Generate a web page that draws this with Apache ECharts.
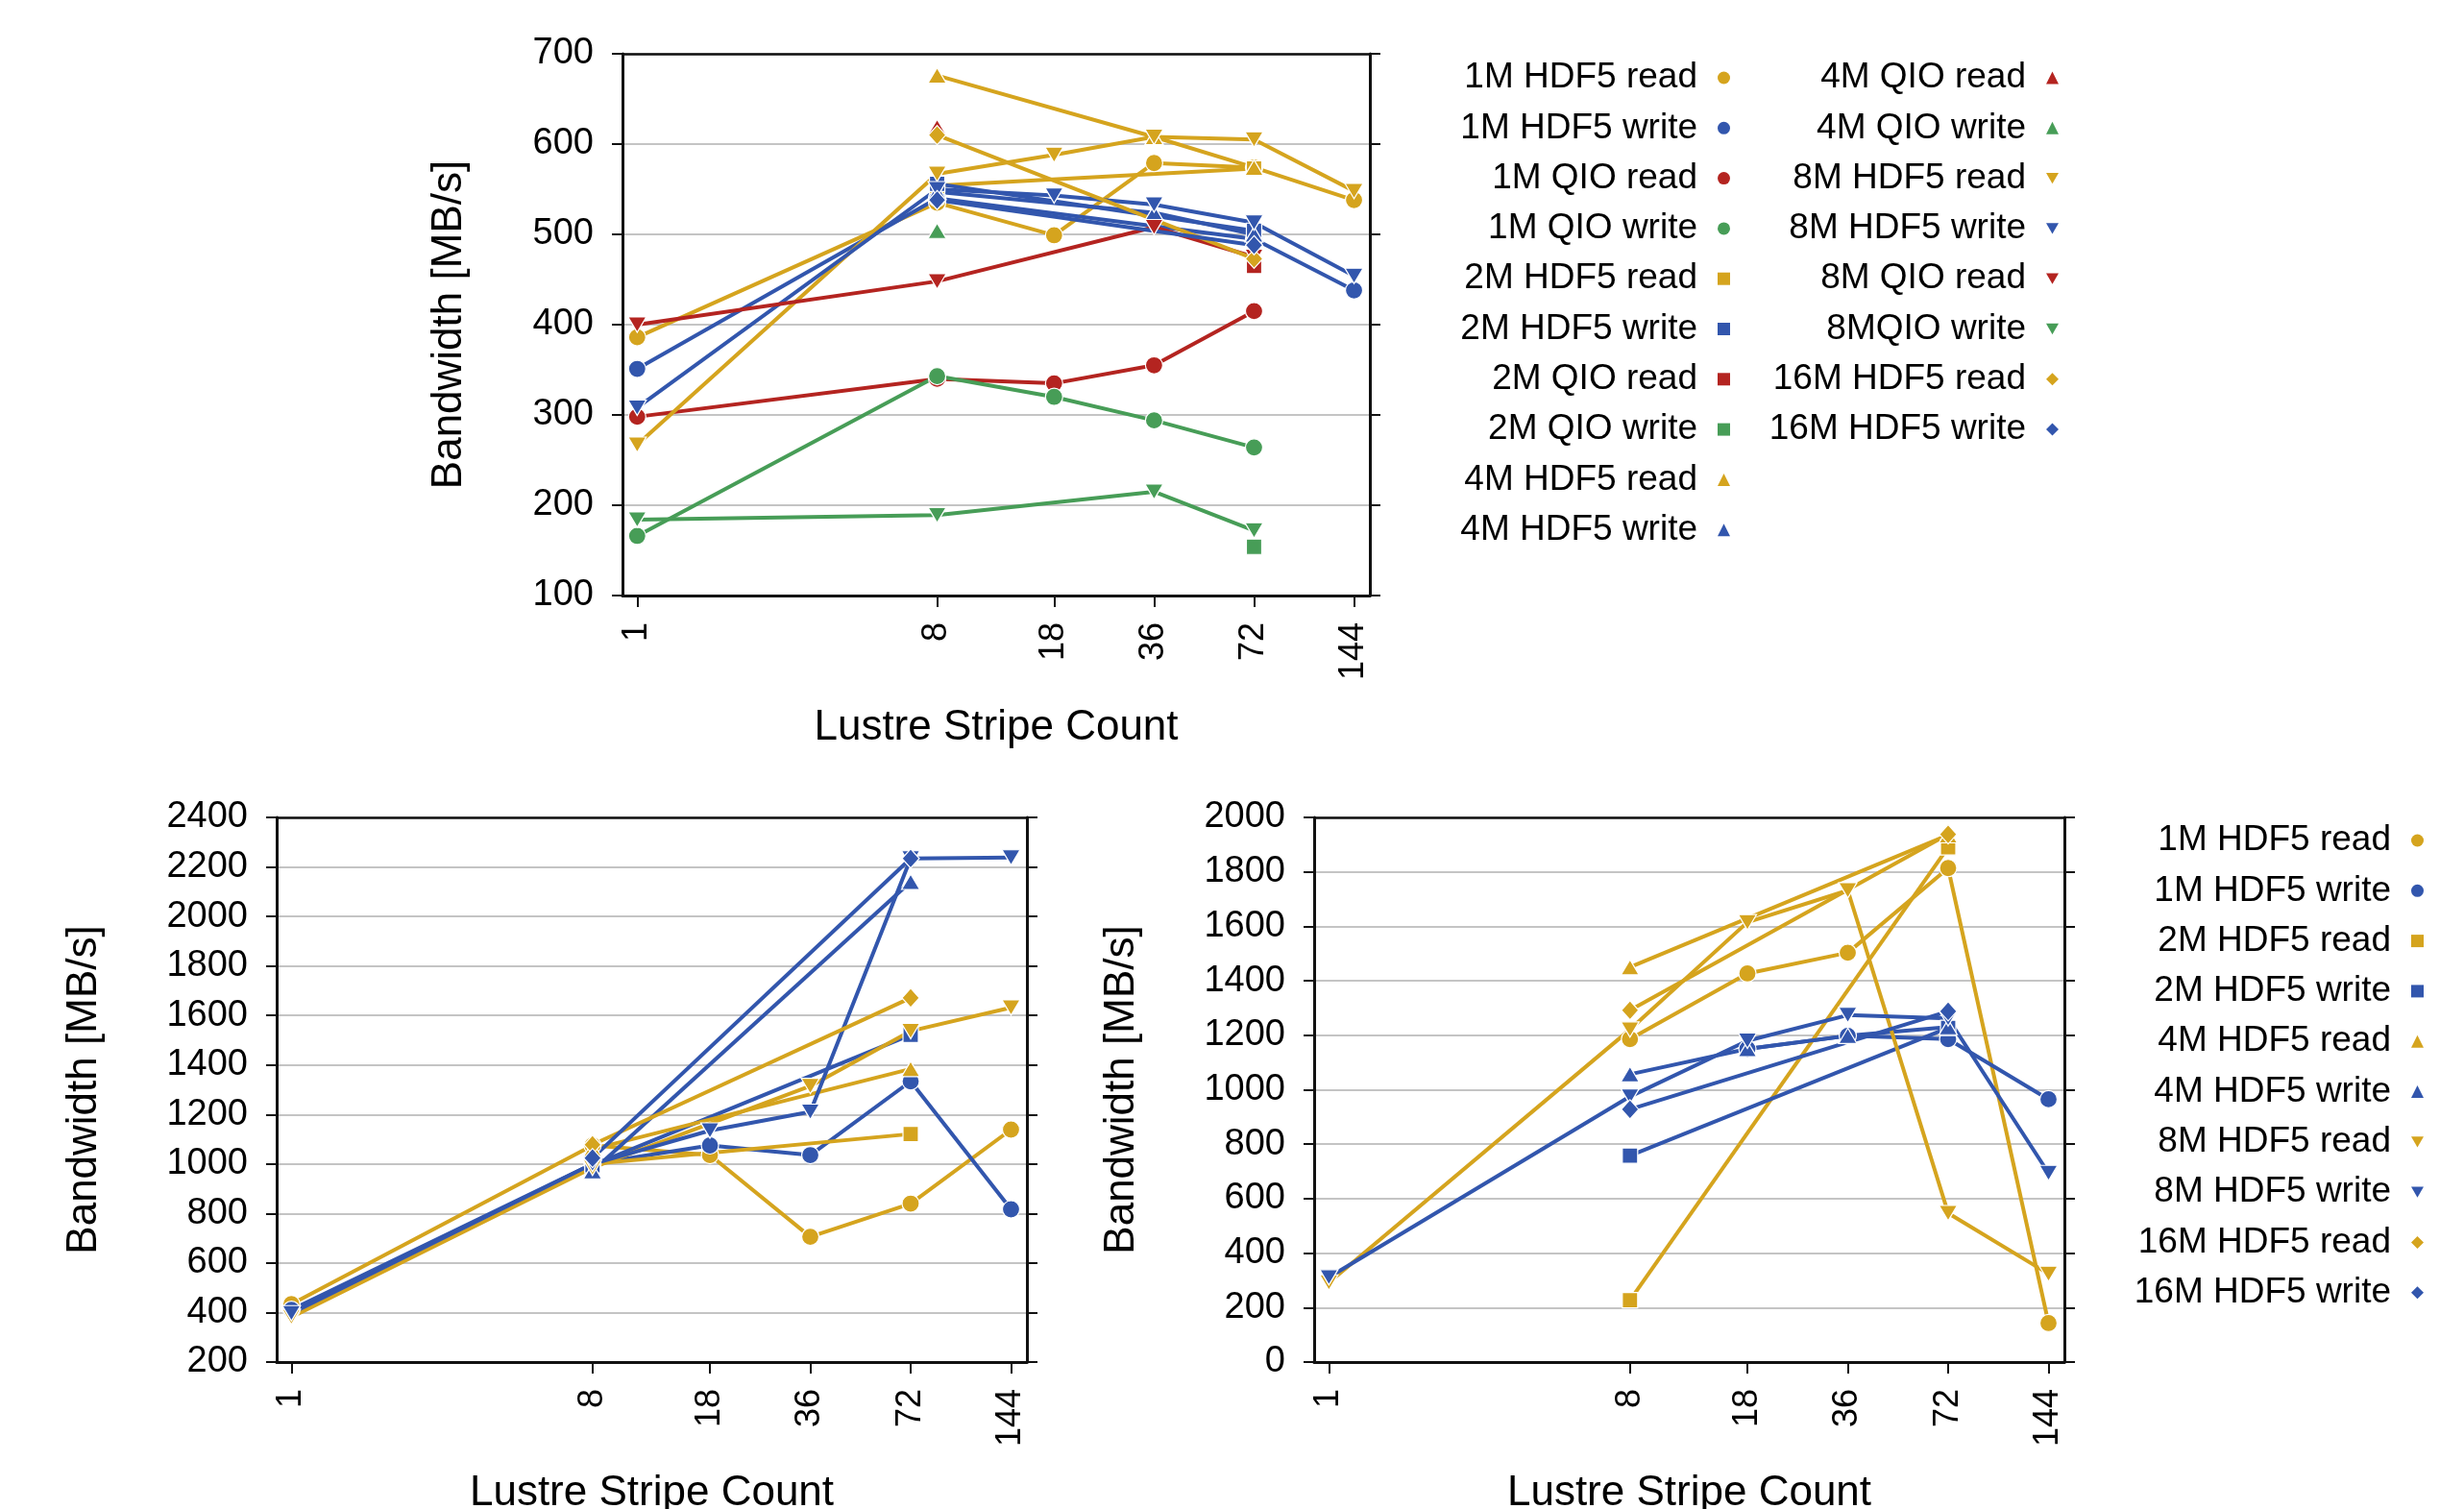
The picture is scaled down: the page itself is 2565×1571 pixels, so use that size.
<!DOCTYPE html>
<html><head><meta charset="utf-8">
<script src="https://cdn.jsdelivr.net/npm/echarts@6/dist/echarts.min.js"></script>
<style>html,body{margin:0;padding:0;background:#fff}#c{width:2565px;height:1571px}</style>
</head><body><div id="c"></div>
<script>
// ---------- DATA ----------
const stripeCounts = [1, 8, 18, 36, 72, 144];
const xAxisTitle = 'Lustre Stripe Count';
const yAxisTitle = 'Bandwidth [MB/s]';

// Top chart (HDF5 vs QIO), values per stripe count (null = not measured)
const top_1M_HDF5_read   = [386, 535, 499, 579, 574, 538];
const top_1M_HDF5_write  = [351, 540, null, null, 495, 438];
const top_1M_QIO_read    = [298, 340, 335, 355, 415, null];
const top_1M_QIO_write   = [166, 343, 320, 294, 264, null];
const top_2M_HDF5_read   = [null, 554, null, null, 573, null];
const top_2M_HDF5_write  = [null, 556, null, null, 504, null];
const top_2M_QIO_read    = [null, null, null, null, 465, null];
const top_2M_QIO_write   = [null, null, null, null, 154, null];
const top_4M_HDF5_read   = [null, 676, null, 608, 574, null];
const top_4M_HDF5_write  = [null, 547, null, 524, 500, null];
const top_4M_QIO_read    = [null, 619, null, null, null, null];
const top_4M_QIO_write   = [null, 504, null, null, null, null];
const top_8M_HDF5_read   = [267, 567, 588, 608, 605, 548];
const top_8M_HDF5_write  = [308, 550, 543, 533, 513, 454];
const top_8M_QIO_read    = [400, 448, null, 508, 475, null];
const top_8M_QIO_write   = [184, 189, null, 215, 172, null];
const top_16M_HDF5_read  = [null, 610, null, null, 473, null];
const top_16M_HDF5_write = [null, 538, null, null, 488, null];

// Bottom-left chart
const bl_1M_HDF5_read   = [434, 1075, 1036, 706, 840, 1139];
const bl_1M_HDF5_write  = [411, 1000, 1075, 1036, 1334, 817];
const bl_2M_HDF5_read   = [null, 1000, null, null, 1121, null];
const bl_2M_HDF5_write  = [null, 995, null, null, 1522, null];
const bl_4M_HDF5_read   = [null, 1060, null, null, 1384, null];
const bl_4M_HDF5_write  = [null, 971, null, null, 2140, null];
const bl_8M_HDF5_read   = [382, 985, null, 1315, 1537, 1632];
const bl_8M_HDF5_write  = [397, 1000, 1135, 1211, 2234, 2238];
const bl_16M_HDF5_read  = [null, 1078, null, null, 1671, null];
const bl_16M_HDF5_write = [null, 1024, null, null, 2234, null];

// Bottom-right chart
const br_1M_HDF5_read   = [null, 1186, 1427, 1503, 1814, 143];
const br_1M_HDF5_write  = [null, null, 1150, 1198, 1186, 965];
const br_2M_HDF5_read   = [null, 227, null, null, 1890, null];
const br_2M_HDF5_write  = [null, 758, null, null, 1227, null];
const br_4M_HDF5_read   = [null, 1450, null, null, 1935, null];
const br_4M_HDF5_write  = [null, 1057, 1150, 1198, 1230, null];
const br_8M_HDF5_read   = [292, 1221, 1615, 1732, 547, 324];
const br_8M_HDF5_write  = [311, 975, 1180, 1274, 1262, 694];
const br_16M_HDF5_read  = [null, 1292, null, null, 1938, null];
const br_16M_HDF5_write = [null, 928, null, null, 1288, null];

const topNames = ['1M HDF5 read','1M HDF5 write','1M QIO read','1M QIO write','2M HDF5 read','2M HDF5 write','2M QIO read','2M QIO write','4M HDF5 read','4M HDF5 write','4M QIO read','4M QIO write','8M HDF5 read','8M HDF5 write','8M QIO read','8MQIO write','16M HDF5 read','16M HDF5 write'];
const topValues = [top_1M_HDF5_read, top_1M_HDF5_write, top_1M_QIO_read, top_1M_QIO_write, top_2M_HDF5_read, top_2M_HDF5_write, top_2M_QIO_read, top_2M_QIO_write, top_4M_HDF5_read, top_4M_HDF5_write, top_4M_QIO_read, top_4M_QIO_write, top_8M_HDF5_read, top_8M_HDF5_write, top_8M_QIO_read, top_8M_QIO_write, top_16M_HDF5_read, top_16M_HDF5_write];
const hdfNames = ['1M HDF5 read','1M HDF5 write','2M HDF5 read','2M HDF5 write','4M HDF5 read','4M HDF5 write','8M HDF5 read','8M HDF5 write','16M HDF5 read','16M HDF5 write'];
const blValues = [bl_1M_HDF5_read, bl_1M_HDF5_write, bl_2M_HDF5_read, bl_2M_HDF5_write, bl_4M_HDF5_read, bl_4M_HDF5_write, bl_8M_HDF5_read, bl_8M_HDF5_write, bl_16M_HDF5_read, bl_16M_HDF5_write];
const brValues = [br_1M_HDF5_read, br_1M_HDF5_write, br_2M_HDF5_read, br_2M_HDF5_write, br_4M_HDF5_read, br_4M_HDF5_write, br_8M_HDF5_read, br_8M_HDF5_write, br_16M_HDF5_read, br_16M_HDF5_write];

// ---------- STYLE ----------
const FONT = 'Liberation Sans, Arial, sans-serif';
const C = { hdfRead: '#D5A41E', hdfWrite: '#3256AD', qioRead: '#B42420', qioWrite: '#479D57' };
const TRI_DOWN = 'path://M0,0L100,0L50,87Z';
function colorOf(n) {
  const q = n.indexOf('QIO') >= 0, r = n.indexOf('read') >= 0;
  return q ? (r ? C.qioRead : C.qioWrite) : (r ? C.hdfRead : C.hdfWrite);
}
function symbolOf(n) {
  if (n.startsWith('16M')) return 'diamond';
  if (n.startsWith('1M')) return 'circle';
  if (n.startsWith('2M')) return 'rect';
  if (n.startsWith('4M')) return 'triangle';
  return TRI_DOWN;
}
function symSize(n) {
  const s = symbolOf(n);
  if (s === 'circle') return 18;
  if (s === 'rect') return 16;
  if (s === 'diamond') return [18, 20];
  return [19, 16];
}
const toLog = v => Math.log2(v);
const X_MIN = -0.147, X_MAX = 7.328;

function makeSeries(names, values, axisIdx) {
  return names.map((n, i) => ({
    type: 'line', name: n, xAxisIndex: axisIdx, yAxisIndex: axisIdx,
    data: stripeCounts.map((s, k) => values[i][k] == null ? null : [toLog(s), values[i][k]]).filter(d => d),
    symbol: symbolOf(n), symbolSize: symSize(n), showSymbol: true, showAllSymbol: true,
    lineStyle: { width: 4, color: colorOf(n) },
    itemStyle: { color: colorOf(n), borderColor: '#fff', borderWidth: 1.2 },
    emphasis: { disabled: true }, animation: false, clip: false
  }));
}

const axisLineStyle = { color: '#111', width: 3 };
function xAxesFor(gi, gap) {
  return [{
    type: 'value', gridIndex: gi, position: 'bottom', min: X_MIN, max: X_MAX,
    axisLine: { show: true, onZero: false, lineStyle: axisLineStyle },
    axisTick: { show: true, inside: false, length: 12, lineStyle: { color: '#111', width: 2 }, customValues: stripeCounts.map(toLog) },
    axisLabel: { show: true, rotate: 90, margin: 28, fontSize: 36, color: '#000', fontFamily: FONT,
      customValues: stripeCounts.map(toLog), formatter: v => String(Math.round(Math.pow(2, v))) },
    splitLine: { show: false },
    name: xAxisTitle, nameLocation: 'middle', nameGap: gap,
    nameTextStyle: { fontSize: 44, color: '#000', fontFamily: FONT }
  }, {
    type: 'value', gridIndex: gi, position: 'top', min: X_MIN, max: X_MAX,
    axisLine: { show: true, onZero: false, lineStyle: { color: '#111', width: 2.5 } },
    axisTick: { show: false }, axisLabel: { show: false }, splitLine: { show: false }
  }];
}
function yAxesFor(gi, min, max, step, gap) {
  return [{
    type: 'value', gridIndex: gi, position: 'left', min: min, max: max, interval: step,
    axisLine: { show: true, onZero: false, lineStyle: axisLineStyle },
    axisTick: { show: true, inside: false, length: 11, lineStyle: { color: '#111', width: 2 } },
    axisLabel: { fontSize: 38, color: '#000', fontFamily: FONT, margin: 30, formatter: v => String(v) },
    splitLine: { show: true, lineStyle: { color: '#b0b0b0', width: 1.5 } },
    name: yAxisTitle, nameLocation: 'middle', nameGap: gap,
    nameTextStyle: { fontSize: 44, color: '#000', fontFamily: FONT }
  }, {
    type: 'value', gridIndex: gi, position: 'right', min: min, max: max, interval: step,
    axisLine: { show: true, onZero: false, lineStyle: axisLineStyle },
    axisTick: { show: true, inside: false, length: 11, lineStyle: { color: '#111', width: 2 } },
    axisLabel: { show: false }, splitLine: { show: false }
  }];
}

function legendFor(names, right, top) {
  return {
    data: names.map(n => ({ name: n, icon: symbolOf(n) })),
    orient: 'vertical', align: 'right', right: right, top: top,
    itemWidth: 13, itemHeight: 13, itemGap: 12.3, padding: 0, selectedMode: false,
    itemStyle: { borderWidth: 0 },
    textStyle: { fontSize: 37, lineHeight: 40, color: '#000', fontFamily: FONT, padding: [0, 16, 0, 0] }
  };
}

const option = {
  backgroundColor: '#fff',
  animation: false,
  grid: [
    { left: 648, top: 56, width: 778, height: 564, containLabel: false, outerBoundsMode: 'none' },
    { left: 288, top: 851, width: 781, height: 567, containLabel: false, outerBoundsMode: 'none' },
    { left: 1368, top: 851, width: 781, height: 567, containLabel: false, outerBoundsMode: 'none' }
  ],
  xAxis: [].concat(xAxesFor(0, 116), xAxesFor(1, 115), xAxesFor(2, 115)),
  yAxis: [].concat(yAxesFor(0, 100, 700, 100, 158), yAxesFor(1, 200, 2400, 200, 178), yAxesFor(2, 0, 2000, 200, 178)),
  legend: [
    legendFor(topNames.slice(0, 10), 764, 61),
    legendFor(topNames.slice(10), 422, 61),
    legendFor(hdfNames, 42, 855)
  ],
  series: [].concat(
    makeSeries(topNames, topValues, 0),
    makeSeries(hdfNames, blValues, 2),
    makeSeries(hdfNames, brValues, 4)
  )
};
const chart = echarts.init(document.getElementById('c'), null, { renderer: 'canvas' });
chart.setOption(option);
</script>
</body></html>
